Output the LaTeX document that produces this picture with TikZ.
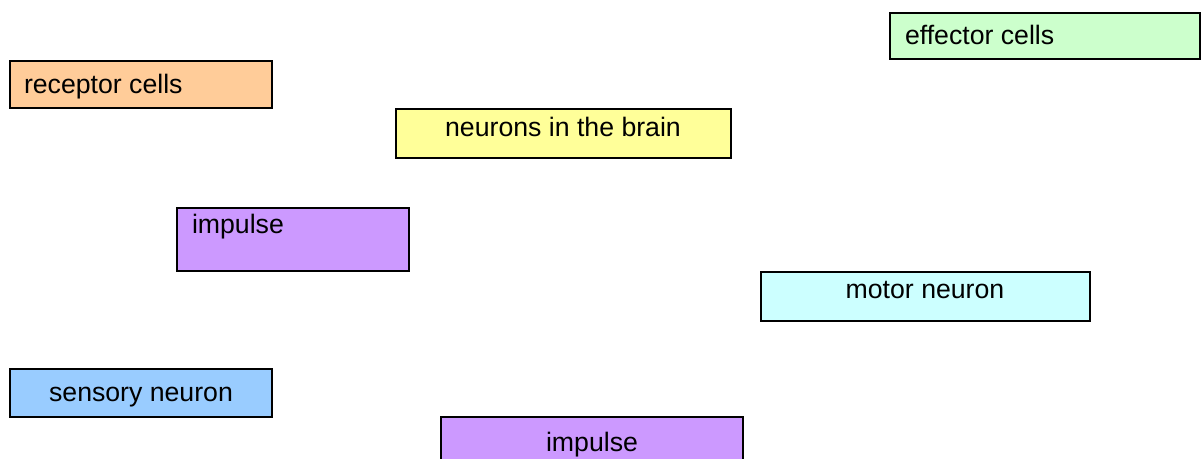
\documentclass[tikz,border=0pt]{standalone}
\usepackage{fontspec}
\setmainfont{Liberation Sans}
\definecolor{cgreen}{HTML}{CCFFCC}
\definecolor{corange}{HTML}{FFCC99}
\definecolor{cyellow}{HTML}{FFFF99}
\definecolor{cpurple}{HTML}{CC99FF}
\definecolor{ccyan}{HTML}{CCFFFF}
\definecolor{cblue}{HTML}{99CCFF}
\tikzset{
  box/.style={draw=black, line width=1.5pt, rectangle, inner sep=0pt, outer sep=0pt},
  lbl/.style={inner sep=0pt, outer sep=0pt, font=\fontsize{20pt}{23pt}\selectfont},
}
\begin{document}
\begin{tikzpicture}[x=0.75pt,y=-0.75pt]
\useasboundingbox (0,0) rectangle (1204,459);
\clip (0,0) rectangle (1204,459);
% boxes
\node[box, fill=cgreen, minimum width=310*0.75pt, minimum height=46*0.75pt] (effector) at (1045,36) {};
\node[box, fill=corange, minimum width=262*0.75pt, minimum height=47*0.75pt] (receptor) at (141,84.5) {};
\node[box, fill=cyellow, minimum width=335*0.75pt, minimum height=49*0.75pt] (brain) at (563.5,133.5) {};
\node[box, fill=cpurple, minimum width=232*0.75pt, minimum height=63*0.75pt] (impulseA) at (293,239.5) {};
\node[box, fill=ccyan, minimum width=329*0.75pt, minimum height=49*0.75pt] (motor) at (925.5,296.5) {};
\node[box, fill=cblue, minimum width=262*0.75pt, minimum height=48*0.75pt] (sensory) at (141,393) {};
\node[box, fill=cpurple, minimum width=302*0.75pt, minimum height=60*0.75pt] (impulseB) at (592,447) {};
% labels
\node[lbl, anchor=base west] (teffector) at (905,44.5) {effector cells};
\node[lbl, anchor=base west] (treceptor) at (24,94) {receptor cells};
\node[lbl, anchor=base] (tbrain) at (563,137) {neurons in the brain};
\node[lbl, anchor=base west] (timpulseA) at (192,234) {impulse};
\node[lbl, anchor=base] (tmotor) at (925,299) {motor neuron};
\node[lbl, anchor=base] (tsensory) at (141,402) {sensory neuron};
\node[lbl, anchor=base] (timpulseB) at (592,452) {impulse};
\end{tikzpicture}
\end{document}
